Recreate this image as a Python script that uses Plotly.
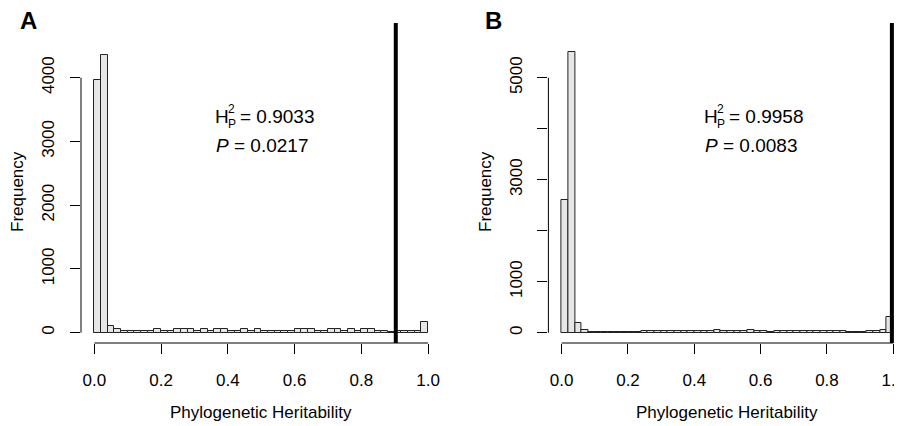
import plotly.graph_objects as go

# histogram bins (width 0.02 on [0, 1])
bin_width = 0.02
bin_starts = [round(i * bin_width, 2) for i in range(50)]
bin_mids = [round(b + bin_width / 2, 3) for b in bin_starts]

# panel A counts
counts_a = [3960, 4360, 110, 50, 30, 25, 30, 30, 30, 50,
            30, 30, 50, 50, 50, 30, 50, 30, 50, 50,
            30, 30, 50, 30, 50, 30, 30, 30, 30, 30,
            50, 50, 50, 30, 30, 50, 50, 30, 50, 30,
            50, 50, 30, 20, 15, 20, 20, 20, 20, 170]
# panel B counts
counts_b = [2600, 5500, 200, 45, 20, 20, 20, 20, 20, 20,
            20, 20, 25, 25, 25, 25, 25, 25, 25, 25,
            25, 25, 25, 45, 25, 25, 25, 25, 45, 25,
            25, 20, 25, 25, 25, 25, 25, 25, 25, 25,
            25, 25, 25, 20, 15, 15, 25, 25, 45, 300]

observed_a = 0.9033
observed_b = 0.9958
pval_a = "0.0217"
pval_b = "0.0083"

x_ticks = [0, 0.2, 0.4, 0.6, 0.8, 1.0]
x_ticktext = ["0.0", "0.2", "0.4", "0.6", "0.8", "1.0"]
y_ticks_a = [0, 1000, 2000, 3000, 4000]
y_ticktext_a = ["0", "1000", "2000", "3000", "4000"]
y_ticks_b = [0, 1000, 2000, 3000, 4000, 5000]
y_ticktext_b = ["0", "1000", "", "3000", "", "5000"]

FONT = "Liberation Sans, Arial, Helvetica, sans-serif"
# page body adds an 8px offset, so the figure is drawn 8px smaller
OFF = 8
W, H = 902 - OFF, 426 - OFF
ML, MR, MT, MB = 81 - OFF, 0, 23 - OFF, 83
PW, PH = W - ML - MR, H - MT - MB


def px(x, y):
    return (x - OFF - ML) / PW, (H - MB - (y - OFF)) / PH


fig = go.Figure()
bar_style = dict(width=bin_width, marker=dict(color="#e6e6e6", line=dict(color="#222222", width=1)),
                 hoverinfo="skip", showlegend=False)
fig.add_trace(go.Bar(x=bin_mids, y=counts_a, xaxis="x", yaxis="y", **bar_style))
fig.add_trace(go.Bar(x=bin_mids, y=counts_b, xaxis="x2", yaxis="y2", **bar_style))

axis_common = dict(showgrid=False, zeroline=False, showline=False, ticks="outside", ticklen=10,
                   tickwidth=1, tickcolor="black", automargin=False, ticklabeloverflow="allow",
                   tickfont=dict(family=FONT, size=17, color="black"))

fig.update_layout(
    width=W, height=H,
    margin=dict(l=ML, r=MR, t=MT, b=MB, autoexpand=False),
    plot_bgcolor="white", paper_bgcolor="white",
    bargap=0,
    xaxis=dict(domain=[0, 360.4 / PW], range=[-0.04, 1.04], tickvals=x_ticks, ticktext=x_ticktext,
               ticklabelstandoff=12, anchor="y", **axis_common),
    yaxis=dict(domain=[0, 1], range=[-162, 4858], tickvals=y_ticks_a, ticktext=y_ticktext_a,
               tickangle=-90, ticklabelstandoff=9, anchor="x", **axis_common),
    xaxis2=dict(domain=[467.4 / PW, 1], range=[-0.04, 1.0263], tickvals=x_ticks, ticktext=x_ticktext,
                ticklabelstandoff=12, anchor="y2", **axis_common),
    yaxis2=dict(domain=[0, 1], range=[-202, 6073], tickvals=y_ticks_b, ticktext=y_ticktext_b,
                tickangle=-90, ticklabelstandoff=9, anchor="x2", **axis_common),
)

shapes = []
for xa, ya, ymax, obs in [("x", "y", 4000, observed_a), ("x2", "y2", 5000, observed_b)]:
    # R style axis lines between first and last tick
    shapes.append(dict(type="line", xref=xa, yref=ya + " domain", x0=0, x1=1, y0=0, y1=0,
                       line=dict(color="black", width=1)))
    shapes.append(dict(type="line", xref=xa + " domain", yref=ya, x0=0, x1=0, y0=0, y1=ymax,
                       line=dict(color="black", width=1)))
    # observed value
    shapes.append(dict(type="line", xref=xa, yref=ya + " domain", x0=obs, x1=obs, y0=0, y1=1,
                       line=dict(color="black", width=4)))
fig.update_layout(shapes=shapes)

ann = []


def text(x, y, s, size=19, **kw):
    xp, yp = px(x, y)
    d = dict(x=xp, y=yp, xref="paper", yref="paper", text=s, showarrow=False,
             font=dict(family=FONT, size=size, color="black"), xanchor="left", yanchor="middle")
    d.update(kw)
    ann.append(d)


for off, pv, obs in [(0, pval_a, observed_a), (489, pval_b, observed_b)]:
    text(213 + off, 117, "H")
    text(226 + off, 109, "2", size=12)
    text(226 + off, 124, "P", size=12)
    text(238 + off, 117, "= " + f"{obs:.4f}")
    text(214 + off, 145, "<i>P</i> = " + pv)
    text(17 + off - (off and 21), 192, "Frequency", size=17, xanchor="center", textangle=-90)
    text(261 + off - (off and 23), 412, "Phylogenetic Heritability", size=17, xanchor="center")

text(28, 20, "<b>A</b>", size=24, xanchor="center")
text(494, 20, "<b>B</b>", size=24, xanchor="center")
fig.update_layout(annotations=ann)

fig.write_html("out.html")
